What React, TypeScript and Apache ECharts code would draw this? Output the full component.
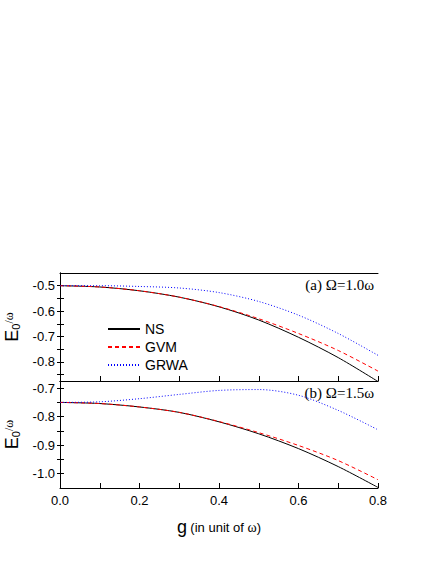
import React, { useEffect, useRef } from "react";
import * as echarts from "echarts";

const gValues = [0, 0.1, 0.2, 0.3, 0.4, 0.5, 0.6, 0.7, 0.8];
const xTickLabels = ["0.0", "0.2", "0.4", "0.6", "0.8"];

// panel (a) Omega = 1.0 omega
const nsA = [-0.5, -0.505, -0.52, -0.545, -0.583, -0.635, -0.703, -0.783, -0.877];
const gvmA = [-0.5, -0.505, -0.52, -0.545, -0.582, -0.63, -0.688, -0.755, -0.836];
const grwaA = [-0.5, -0.5, -0.503, -0.509, -0.527, -0.562, -0.616, -0.688, -0.774];

// panel (b) Omega = 1.5 omega
const nsB = [-0.75, -0.754, -0.766, -0.785, -0.818, -0.86, -0.912, -0.975, -1.048];
const gvmB = [-0.75, -0.754, -0.766, -0.785, -0.817, -0.856, -0.901, -0.954, -1.021];
const grwaB = [-0.75, -0.748, -0.737, -0.722, -0.708, -0.705, -0.725, -0.778, -0.846];

const yTicksA = [-0.85, -0.8, -0.75, -0.7, -0.65, -0.6, -0.55, -0.5];
const yLabelsA = [-0.8, -0.7, -0.6, -0.5];
const yTicksB = [-1.0, -0.95, -0.9, -0.85, -0.8, -0.75, -0.7];
const yLabelsB = [-1.0, -0.9, -0.8, -0.7];

const pair = (ys: number[]) => gValues.map((g, i) => [g, ys[i]]);

const SANS = "Liberation Sans, Arial, sans-serif";
const SERIF = "Liberation Serif, Times New Roman, serif";

export default function App() {
  const ref = useRef<HTMLDivElement>(null);
  useEffect(() => {
    if (!ref.current) return;
    const chart = echarts.init(ref.current, undefined, { renderer: "svg" });
    const axisLineStyle = { color: "#000", width: 1 };
    const yName = {
      name: "{e|E}{s|0}{w|/ω}",
      nameLocation: "middle" as const,
      nameGap: 39,
      nameTextStyle: {
        rich: {
          e: { fontSize: 18, fontFamily: SANS, color: "#000", lineHeight: 18 },
          s: { fontSize: 11, fontFamily: SANS, color: "#000", verticalAlign: "bottom", lineHeight: 18, padding: [8, 0, 0, 0] },
          w: { fontSize: 12, fontFamily: SERIF, color: "#000", verticalAlign: "top", lineHeight: 18, padding: [0, 0, 5, 0] },
        },
      },
    };
    const mkY = (gridIndex: number, min: number, max: number, ticks: number[], labels: number[]) => [
      {
        type: "value",
        gridIndex,
        min,
        max,
        position: "left",
        ...yName,
        axisLine: { show: true, lineStyle: axisLineStyle },
        axisTick: { show: true, inside: true, length: 4, lineStyle: axisLineStyle, customValues: ticks },
        splitLine: { show: false },
        axisLabel: {
          customValues: labels,
          formatter: (v: number) => v.toFixed(1),
          fontSize: 13,
          fontFamily: SANS,
          color: "#000",
          margin: 5,
        },
      },
      {
        type: "value",
        gridIndex,
        min,
        max,
        position: "right",
        axisLine: { show: true, lineStyle: axisLineStyle },
        axisTick: { show: true, inside: true, length: 3, lineStyle: axisLineStyle, customValues: ticks },
        splitLine: { show: false },
        axisLabel: { show: false },
      },
    ];
    const mkX = (gridIndex: number, showLabels: boolean) => ({
      type: "value",
      gridIndex,
      min: 0,
      max: 0.8,
      interval: 0.1,
      axisLine: { show: true, lineStyle: axisLineStyle },
      axisTick: { show: true, inside: true, length: 5, lineStyle: axisLineStyle },
      splitLine: { show: false },
      axisLabel: {
        show: showLabels,
        formatter: (v: number) => {
          const s = v.toFixed(1);
          return xTickLabels.includes(s) ? s : "";
        },
        fontSize: 13,
        fontFamily: SANS,
        color: "#000",
        margin: 6,
      },
      ...(showLabels
        ? {
            name: "{g|g} {t|(in unit of }{w|ω}{t|)}",
            nameLocation: "middle",
            nameGap: 30,
            nameTextStyle: {
              rich: {
                g: { fontSize: 18, fontFamily: SANS, color: "#000" },
                t: { fontSize: 13, fontFamily: SANS, color: "#000" },
                w: { fontSize: 14, fontFamily: SERIF, color: "#000" },
              },
            },
          }
        : {}),
    });
    const mkSeries = (name: string, ys: number[], xi: number, yi: number, color: string, type: any) => ({
      name,
      type: "line",
      xAxisIndex: xi,
      yAxisIndex: yi,
      data: pair(ys),
      smooth: 0.3,
      symbol: "none",
      lineStyle: { color, width: 1, type },
      itemStyle: { color },
      z: name === "NS" ? 3 : name === "GVM" ? 4 : 5,
    });
    chart.setOption({
      animation: false,
      backgroundColor: "#fff",
      grid: [
        { left: 60, top: 273, width: 318, height: 108, show: false, containLabel: false, outerBoundsMode: "none" },
        { left: 60, top: 381, width: 318, height: 107, show: false, containLabel: false, outerBoundsMode: "none" },
      ],
      xAxis: [
        mkX(0, false),
        { ...mkX(0, false), position: "top", axisTick: { show: false } },
        mkX(1, true),
        { ...mkX(1, false), position: "top", axisTick: { show: false } },
      ],
      yAxis: [...mkY(0, -0.875, -0.45, yTicksA, yLabelsA), ...mkY(1, -1.05, -0.675, yTicksB, yLabelsB)],
      legend: {
        orient: "vertical",
        left: 102,
        top: 317,
        itemWidth: 32,
        itemHeight: 14,
        itemGap: 4,
        itemStyle: { color: "rgba(0,0,0,0)", borderWidth: 0, opacity: 0 },
        textStyle: { fontSize: 14, fontFamily: SANS, color: "#000" },
        data: ["NS", "GVM", "GRWA"],
      },
      series: [
        mkSeries("NS", nsA, 0, 0, "#000", "solid"),
        mkSeries("GVM", gvmA, 0, 0, "#ff0000", [4, 3]),
        mkSeries("GRWA", grwaA, 0, 0, "#0000ff", [1, 2]),
        mkSeries("NS", nsB, 2, 2, "#000", "solid"),
        mkSeries("GVM", gvmB, 2, 2, "#ff0000", [4, 3]),
        mkSeries("GRWA", grwaB, 2, 2, "#0000ff", [1, 2]),
      ],
      graphic: [
        {
          type: "text",
          right: 62,
          top: 277,
          style: { text: "(a) Ω=1.0ω", font: `15px ${SERIF}`, fill: "#000" },
        },
        {
          type: "text",
          right: 62,
          top: 385,
          style: { text: "(b) Ω=1.5ω", font: `15px ${SERIF}`, fill: "#000" },
        },
      ],
    });
    return () => chart.dispose();
  }, []);
  return (
    <div
      ref={ref}
      style={{ position: "fixed", left: 0, top: 0, width: 436, height: 564, background: "#fff" }}
    />
  );
}
